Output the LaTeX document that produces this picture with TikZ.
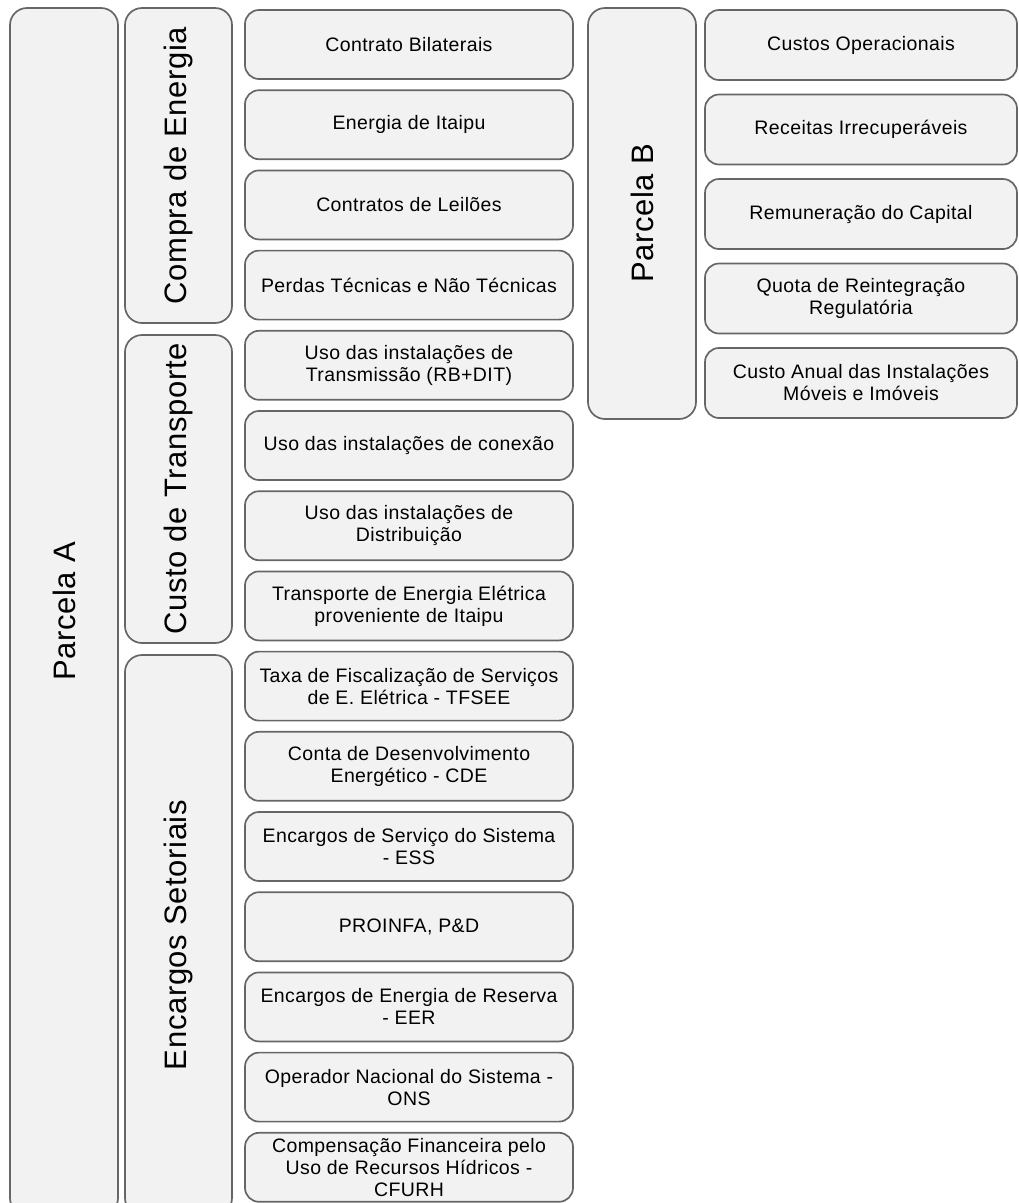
\documentclass[tikz,border=0pt]{standalone}
\usepackage{fontspec}
\setmainfont{Liberation Sans}[LetterSpace=2]
\usepackage{tikz}
\usetikzlibrary{positioning}

\begin{document}
\begin{tikzpicture}[
  x=1pt, y=-1pt,
  gbox/.style={rectangle, rounded corners=17pt, draw=black!60, fill=gray!10,
               line width=1.7pt, inner sep=0pt, rotate=90,
               font=\fontsize{31}{34}\selectfont},
  ibox/.style={rectangle, rounded corners=14pt, draw=black!60, fill=gray!10,
               line width=1.7pt, inner sep=0pt, align=center,
               minimum width=328pt, minimum height=69pt,
               font=\fontsize{19.5}{22}\selectfont},
  bbox/.style={ibox, minimum width=312pt, minimum height=70pt},
]
\useasboundingbox (0,0) rectangle (1019,1203);
\clip (0,0) rectangle (1019,1203);

%% PARCELA A
\node[gbox, minimum width=1207pt, minimum height=108pt] (parA) at (64, 611.5) {Parcela A};

\node[gbox, minimum width=315pt, minimum height=107pt] (compra)   at (178.5, 165.5) {Compra de Energia};
\node[gbox, minimum width=308pt, minimum height=107pt] (transp)   at (178.5, 489)   {Custo de Transporte};
\node[gbox, minimum width=560pt, minimum height=107pt] (encargos) at (178.5, 935)   {Encargos Setoriais};

%% compra de energia
\node[ibox] (a1) at (409, 44.5)  {Contrato Bilaterais};
\node[ibox] (a2) at (409, 124.7) {Energia de Itaipu};
\node[ibox] (a3) at (409, 204.9) {Contratos de Leilões};
\node[ibox] (a4) at (409, 285.1) {Perdas Técnicas e Não Técnicas};

%% custo de transporte
\node[ibox] (a5) at (409, 365.3) {Uso das instalações de\\Transmissão (RB+DIT)};
\node[ibox] (a6) at (409, 445.5) {Uso das instalações de conexão};
\node[ibox] (a7) at (409, 525.7) {Uso das instalações de\\Distribuição};
\node[ibox] (a8) at (409, 605.9) {Transporte de Energia Elétrica\\proveniente de Itaipu};

%% encargos setoriais
\node[ibox] (a9)  at (409, 686.1)  {Taxa de Fiscalização de Serviços\\de E. Elétrica - TFSEE};
\node[ibox] (a10) at (409, 766.3)  {Conta de Desenvolvimento\\Energético - CDE};
\node[ibox] (a11) at (409, 846.5)  {Encargos de Serviço do Sistema\\- ESS};
\node[ibox] (a12) at (409, 926.7)  {PROINFA, P\&D};
\node[ibox] (a13) at (409, 1006.9) {Encargos de Energia de Reserva\\- EER};
\node[ibox] (a14) at (409, 1087.1) {Operador Nacional do Sistema -\\ONS};
\node[ibox] (a15) at (409, 1167.3) {Compensação Financeira pelo\\Uso de Recursos Hídricos -\\CFURH};

%% PARCELA B
\node[gbox, minimum width=411pt, minimum height=108pt] (parB) at (642, 213.5) {Parcela B};

\node[bbox] (b1) at (861, 45)    {Custos Operacionais};
\node[bbox] (b2) at (861, 129.5) {Receitas Irrecuperáveis};
\node[bbox] (b3) at (861, 214)   {Remuneração do Capital};
\node[bbox] (b4) at (861, 298.5) {Quota de Reintegração\\Regulatória};
\node[bbox] (b5) at (861, 383)   {Custo Anual das Instalações\\Móveis e Imóveis};

\end{tikzpicture}
\end{document}
